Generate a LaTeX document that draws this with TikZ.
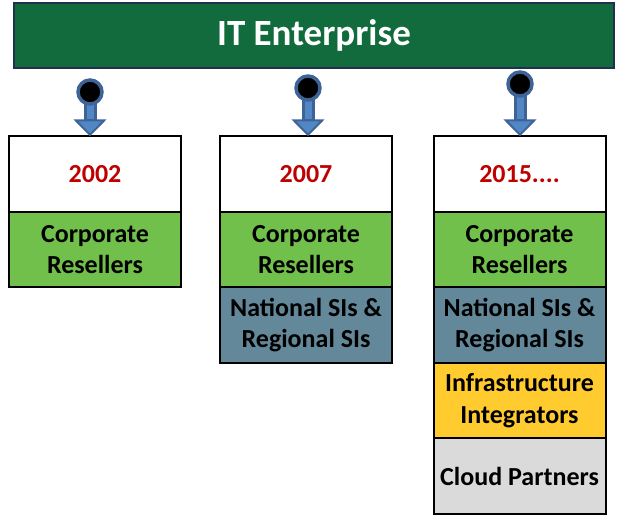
\documentclass[tikz,border=0pt]{standalone}
\usepackage{fontspec}
\setmainfont{Carlito}
\usetikzlibrary{positioning}
\usetikzlibrary{arrows.meta}

\definecolor{entgreen}{HTML}{116B3D}
\definecolor{entedge}{HTML}{1F3050}
\definecolor{resgreen}{HTML}{72C04C}
\definecolor{sislate}{HTML}{62889A}
\definecolor{infyellow}{HTML}{FFCB2F}
\definecolor{cloudgray}{HTML}{DADADA}
\definecolor{yearred}{HTML}{C00000}
\definecolor{pinedge}{HTML}{3E6497}
\definecolor{pinfill}{HTML}{5087C4}

\tikzset{
  topbar/.style={draw=entedge, line width=1.5pt, fill=entgreen, text=white,
    minimum width=600pt, minimum height=65pt, inner sep=0pt,
    font=\fontsize{37}{42}\selectfont\bfseries},
  cell/.style={draw=black, line width=2pt, minimum width=172pt, minimum height=75.5pt,
    inner sep=0pt, outer sep=0pt, align=center,
    font=\fontsize{26}{31.5}\selectfont\bfseries},
  year/.style={cell, fill=white, text=yearred},
  resell/.style={cell, fill=resgreen},
  sis/.style={cell, fill=sislate},
  infra/.style={cell, fill=infyellow},
  cloud/.style={cell, fill=cloudgray},
  pin/.style={circle, fill=black, draw=pinedge, line width=3.5pt, minimum size=24pt, inner sep=0pt},
  pinshaft/.style={draw=pinedge, line width=13pt,
    -{Triangle[width=33pt,length=17pt,line width=2pt,fill=pinfill]}},
  pincore/.style={draw=pinfill, line width=7pt, shorten >=17pt}
}

\begin{document}
\begin{tikzpicture}[x=1pt,y=-1pt]
  \useasboundingbox (0,0) rectangle (618,515);
  \node[topbar] (ent) at (314,35.5) {IT Enterprise};

  % columns
  \node[year] (y02) at (95,174) {2002};
  \node[resell, below=0pt of y02] (cr02) {Corporate\\Resellers};

  \node[year] (y07) at (306,174) {2007};
  \node[resell, below=0pt of y07] (cr07) {Corporate\\Resellers};
  \node[sis, below=0pt of cr07] (si07) {National SIs \&\\Regional SIs};

  \node[year] (y15) at (519.5,174) {2015....};
  \node[resell, below=0pt of y15] (cr15) {Corporate\\Resellers};
  \node[sis, below=0pt of cr15] (si15) {National SIs \&\\Regional SIs};
  \node[infra, below=0pt of si15] (ii15) {Infrastructure\\Integrators};
  \node[cloud, below=0pt of ii15] (cp15) {Cloud Partners};

  % pins
  \coordinate (c02) at (90,92);
  \coordinate (c07) at (308,88);
  \coordinate (c15) at (520,84);
  \foreach \c/\y in {c02/y02, c07/y07, c15/y15} {
    \path[pinshaft] (\c) -- (\c |- \y.north);
    \path[pincore] (\c) -- (\c |- \y.north);
    \node[pin] at (\c) {};
  }
\end{tikzpicture}
\end{document}
